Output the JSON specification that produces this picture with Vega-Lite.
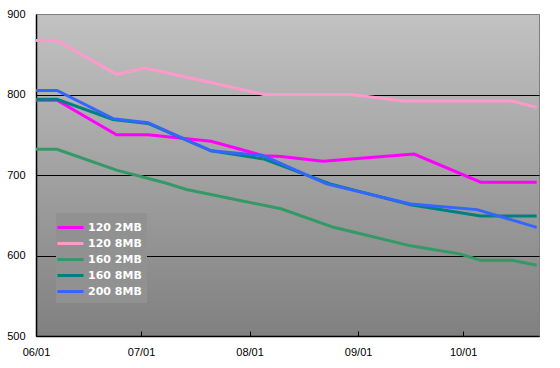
{
  "$schema": "https://vega.github.io/schema/vega-lite/v6.json",
  "width": 503,
  "height": 322,
  "autosize": {"type": "none"},
  "padding": {"left": 36, "top": 14, "right": 21, "bottom": 32},
  "background": "white",
  "config": {
    "view": {
      "stroke": "#808080",
      "strokeWidth": 1,
      "fill": {"gradient": "linear", "x1": 0, "y1": 0, "x2": 0, "y2": 1,
        "stops": [{"offset": 0, "color": "#c2c2c2"}, {"offset": 1, "color": "#808080"}]}
    }
  },
  "data": {
    "values": [
      {"s": "120 2MB", "d": "2007-06-01", "v": 793},
      {"s": "120 2MB", "d": "2007-06-07", "v": 793},
      {"s": "120 2MB", "d": "2007-06-24", "v": 750},
      {"s": "120 2MB", "d": "2007-07-03", "v": 750},
      {"s": "120 2MB", "d": "2007-07-21", "v": 742},
      {"s": "120 2MB", "d": "2007-08-05", "v": 724},
      {"s": "120 2MB", "d": "2007-08-10", "v": 723},
      {"s": "120 2MB", "d": "2007-08-22", "v": 717},
      {"s": "120 2MB", "d": "2007-09-17", "v": 726},
      {"s": "120 2MB", "d": "2007-10-06", "v": 691},
      {"s": "120 2MB", "d": "2007-10-22", "v": 691},
      {"s": "120 8MB", "d": "2007-06-01", "v": 867},
      {"s": "120 8MB", "d": "2007-06-07", "v": 867},
      {"s": "120 8MB", "d": "2007-06-24", "v": 825},
      {"s": "120 8MB", "d": "2007-07-02", "v": 833},
      {"s": "120 8MB", "d": "2007-07-21", "v": 815},
      {"s": "120 8MB", "d": "2007-08-05", "v": 800},
      {"s": "120 8MB", "d": "2007-08-30", "v": 800},
      {"s": "120 8MB", "d": "2007-09-14", "v": 792},
      {"s": "120 8MB", "d": "2007-10-15", "v": 792},
      {"s": "120 8MB", "d": "2007-10-22", "v": 784},
      {"s": "160 2MB", "d": "2007-06-01", "v": 732},
      {"s": "160 2MB", "d": "2007-06-07", "v": 732},
      {"s": "160 2MB", "d": "2007-06-24", "v": 706},
      {"s": "160 2MB", "d": "2007-07-08", "v": 690},
      {"s": "160 2MB", "d": "2007-07-14", "v": 682},
      {"s": "160 2MB", "d": "2007-08-10", "v": 658},
      {"s": "160 2MB", "d": "2007-08-25", "v": 635},
      {"s": "160 2MB", "d": "2007-09-16", "v": 612},
      {"s": "160 2MB", "d": "2007-09-30", "v": 602},
      {"s": "160 2MB", "d": "2007-10-06", "v": 594},
      {"s": "160 2MB", "d": "2007-10-15", "v": 594},
      {"s": "160 2MB", "d": "2007-10-22", "v": 588},
      {"s": "160 8MB", "d": "2007-06-01", "v": 794},
      {"s": "160 8MB", "d": "2007-06-07", "v": 794},
      {"s": "160 8MB", "d": "2007-06-23", "v": 769},
      {"s": "160 8MB", "d": "2007-07-03", "v": 764},
      {"s": "160 8MB", "d": "2007-07-21", "v": 730},
      {"s": "160 8MB", "d": "2007-08-05", "v": 720},
      {"s": "160 8MB", "d": "2007-08-24", "v": 689},
      {"s": "160 8MB", "d": "2007-09-16", "v": 663},
      {"s": "160 8MB", "d": "2007-10-06", "v": 649},
      {"s": "160 8MB", "d": "2007-10-22", "v": 649},
      {"s": "200 8MB", "d": "2007-06-01", "v": 805},
      {"s": "200 8MB", "d": "2007-06-07", "v": 805},
      {"s": "200 8MB", "d": "2007-06-23", "v": 770},
      {"s": "200 8MB", "d": "2007-07-03", "v": 765},
      {"s": "200 8MB", "d": "2007-07-21", "v": 730},
      {"s": "200 8MB", "d": "2007-08-05", "v": 724},
      {"s": "200 8MB", "d": "2007-08-10", "v": 714},
      {"s": "200 8MB", "d": "2007-08-23", "v": 689},
      {"s": "200 8MB", "d": "2007-09-16", "v": 664},
      {"s": "200 8MB", "d": "2007-10-05", "v": 657},
      {"s": "200 8MB", "d": "2007-10-22", "v": 635}
    ]
  },
  "mark": {"type": "line", "strokeWidth": 3, "strokeJoin": "miter", "strokeCap": "butt"},
  "encoding": {
    "x": {
      "field": "d",
      "type": "temporal",
      "scale": {
        "type": "utc",
        "domain": [
          {"year": 2007, "month": 6, "date": 1, "utc": true},
          {"year": 2007, "month": 10, "date": 22, "hours": 16, "utc": true}
        ]
      },
      "axis": {
        "title": null,
        "values": [
          {"year": 2007, "month": 6, "date": 1, "utc": true},
          {"year": 2007, "month": 7, "date": 1, "utc": true},
          {"year": 2007, "month": 8, "date": 1, "utc": true},
          {"year": 2007, "month": 9, "date": 1, "utc": true},
          {"year": 2007, "month": 10, "date": 1, "utc": true}
        ],
        "labelExpr": "utcFormat(datum.value, '%m/%d')",
        "grid": false,
        "domainColor": "black",
        "domainWidth": 1.5,
        "tickColor": "black",
        "tickWidth": 1,
        "tickSize": -5,
        "labelPadding": 15,
        "labelFlush": false,
        "labelFont": "Liberation Sans",
        "labelFontSize": 11,
        "labelColor": "black"
      }
    },
    "y": {
      "field": "v",
      "type": "quantitative",
      "scale": {"domain": [500, 900], "nice": false, "zero": false},
      "axis": {
        "title": null,
        "values": [500, 600, 700, 800, 900],
        "grid": true,
        "gridColor": {"condition": {"test": "datum.value == 900", "value": "#808080"}, "value": "black"},
        "gridOpacity": 1,
        "gridWidth": 1,
        "ticks": false,
        "domainColor": "black",
        "domainWidth": 1.5,
        "labelPadding": 11,
        "labelFont": "Liberation Sans",
        "labelFontSize": 11,
        "labelColor": "black"
      }
    },
    "color": {
      "field": "s",
      "type": "nominal",
      "scale": {
        "domain": ["120 2MB", "120 8MB", "160 2MB", "160 8MB", "200 8MB"],
        "range": ["#ff00ff", "#ff99cc", "#339966", "#008080", "#3366ff"]
      },
      "legend": {
        "orient": "none",
        "legendX": 20,
        "legendY": 199,
        "title": null,
        "symbolType": "M-1.68,0H1.68",
        "symbolStrokeWidth": 3,
        "symbolSize": 240,
        "rowPadding": 0,
        "labelOffset": 8,
        "labelColor": "white",
        "labelFont": "DejaVu Sans",
        "labelFontSize": 11,
        "labelFontWeight": "bold",
        "fillColor": "#919191",
        "padding": 5
      }
    }
  }
}
